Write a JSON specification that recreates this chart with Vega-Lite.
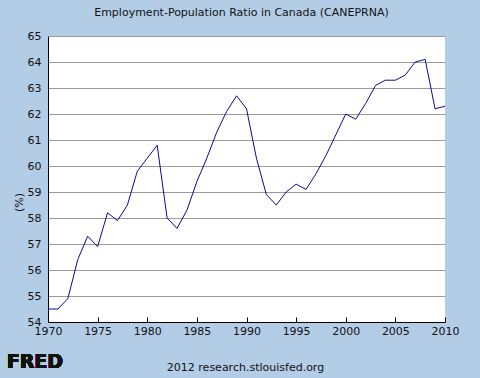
{
  "$schema": "https://vega.github.io/schema/vega-lite/v6.json",
  "autosize": {"type": "none"},
  "width": 397,
  "height": 286,
  "padding": {"left": 48, "top": 36, "right": 35, "bottom": 56},
  "background": "#b4cde7",
  "title": {
    "text": "Employment-Population Ratio in Canada (CANEPRNA)",
    "font": "DejaVu Sans",
    "fontSize": 11,
    "fontWeight": "normal",
    "color": "#111111",
    "anchor": "middle",
    "frame": "group",
    "dx": -5,
    "offset": 12
  },
  "config": {
    "view": {"fill": "white", "stroke": null},
    "axis": {
      "labelFont": "DejaVu Sans",
      "labelFontSize": 11,
      "labelColor": "#111111",
      "titleFont": "DejaVu Sans",
      "titleFontWeight": "normal",
      "titleColor": "#111111",
      "domainColor": "#000000",
      "domainWidth": 1
    },
    "axisX": {
      "values": [1970, 1975, 1980, 1985, 1990, 1995, 2000, 2005, 2010],
      "format": "d",
      "grid": false,
      "tickSize": -5,
      "tickColor": "#000000",
      "labelPadding": 8,
      "labelFlush": false,
      "labelOverlap": false,
      "titleFontSize": 11,
      "titleAlign": "center",
      "titleBaseline": "middle",
      "titleX": 197,
      "titleY": 45
    },
    "axisY": {
      "values": [54, 55, 56, 57, 58, 59, 60, 61, 62, 63, 64, 65],
      "format": "d",
      "grid": true,
      "gridColor": "#9a9a9a",
      "gridWidth": 1,
      "gridOpacity": 1,
      "ticks": false,
      "labelPadding": 7,
      "labelOverlap": false,
      "labelFlush": false,
      "titleFontSize": 11,
      "titleAngle": -90,
      "titleAlign": "center",
      "titleBaseline": "middle",
      "titleX": -29,
      "titleY": 166
    }
  },
  "data": {
    "values": [
      {"year": 1970, "ratio": 54.5},
      {"year": 1971, "ratio": 54.5},
      {"year": 1972, "ratio": 54.9},
      {"year": 1973, "ratio": 56.4},
      {"year": 1974, "ratio": 57.3},
      {"year": 1975, "ratio": 56.9},
      {"year": 1976, "ratio": 58.2},
      {"year": 1977, "ratio": 57.9},
      {"year": 1978, "ratio": 58.5},
      {"year": 1979, "ratio": 59.8},
      {"year": 1980, "ratio": 60.3},
      {"year": 1981, "ratio": 60.8},
      {"year": 1982, "ratio": 58.0},
      {"year": 1983, "ratio": 57.6},
      {"year": 1984, "ratio": 58.3},
      {"year": 1985, "ratio": 59.4},
      {"year": 1986, "ratio": 60.3},
      {"year": 1987, "ratio": 61.3},
      {"year": 1988, "ratio": 62.1},
      {"year": 1989, "ratio": 62.7},
      {"year": 1990, "ratio": 62.2},
      {"year": 1991, "ratio": 60.3},
      {"year": 1992, "ratio": 58.9},
      {"year": 1993, "ratio": 58.5},
      {"year": 1994, "ratio": 59.0},
      {"year": 1995, "ratio": 59.3},
      {"year": 1996, "ratio": 59.1},
      {"year": 1997, "ratio": 59.7},
      {"year": 1998, "ratio": 60.4},
      {"year": 1999, "ratio": 61.2},
      {"year": 2000, "ratio": 62.0},
      {"year": 2001, "ratio": 61.8},
      {"year": 2002, "ratio": 62.4},
      {"year": 2003, "ratio": 63.1},
      {"year": 2004, "ratio": 63.3},
      {"year": 2005, "ratio": 63.3},
      {"year": 2006, "ratio": 63.5},
      {"year": 2007, "ratio": 64.0},
      {"year": 2008, "ratio": 64.1},
      {"year": 2009, "ratio": 62.2},
      {"year": 2010, "ratio": 62.3}
    ]
  },
  "layer": [
    {
      "mark": {"type": "line", "color": "#0a0a9a", "strokeWidth": 1},
      "encoding": {
        "x": {
          "field": "year",
          "type": "quantitative",
          "scale": {"domain": [1970, 2010], "nice": false, "zero": false},
          "axis": {"title": "2012 research.stlouisfed.org"}
        },
        "y": {
          "field": "ratio",
          "type": "quantitative",
          "scale": {"domain": [54, 65], "nice": false, "zero": false},
          "axis": {"title": "(%)"}
        }
      }
    },
    {
      "mark": {"type": "text", "text": "FRED", "font": "DejaVu Sans", "fontSize": 19, "fontWeight": "bold", "color": "#111111", "align": "left", "baseline": "middle"},
      "encoding": {
        "x": {"datum": 1965.84, "type": "quantitative", "scale": {"domain": [1970, 2010], "nice": false, "zero": false}, "axis": {"title": "2012 research.stlouisfed.org"}},
        "y": {"datum": 52.45, "type": "quantitative", "scale": {"domain": [54, 65], "nice": false, "zero": false}, "axis": {"title": "(%)"}}
      }
    }
  ]
}
